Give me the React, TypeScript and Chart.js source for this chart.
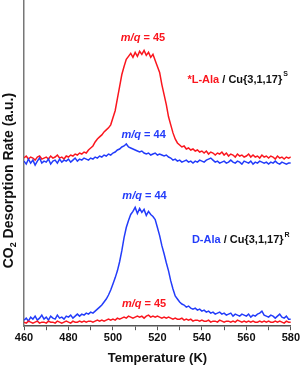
import React, { useEffect, useRef } from "react";
import { Chart, registerables } from "chart.js";

Chart.register(...registerables);

// Temperature grid (K)
const temperatures = [
  460, 461, 462, 463, 464, 465, 466, 467, 468, 469,
  470, 471, 472, 473, 474, 475, 476, 477, 478, 479,
  480, 481, 482, 483, 484, 485, 486, 487, 488, 489,
  490, 491, 492, 493, 494, 495, 496, 497, 498, 499,
  500, 501, 502, 503, 504, 505, 506, 507, 508, 509,
  510, 511, 512, 513, 514, 515, 516, 517, 518, 519,
  520, 521, 522, 523, 524, 525, 526, 527, 528, 529,
  530, 531, 532, 533, 534, 535, 536, 537, 538, 539,
  540, 541, 542, 543, 544, 545, 546, 547, 548, 549,
  550, 551, 552, 553, 554, 555, 556, 557, 558, 559,
  560, 561, 562, 563, 564, 565, 566, 567, 568, 569,
  570, 571, 572, 573, 574, 575, 576, 577, 578, 579,
  580,
];

// *L-Ala / Cu{3,1,17}S, m/q = 45 (offset trace, upper panel)
const lAla45 = [
  167, 169, 166, 168, 167, 165, 168, 169, 166, 167,
  168, 166, 169, 167, 168, 170, 167, 168, 166, 169,
  168, 170, 169, 171, 170, 172, 171, 173, 172, 175,
  177, 179, 183, 186, 188, 190, 193, 195, 197, 200,
  207, 214, 226, 238, 250, 258, 265, 268, 271, 267,
  272, 268, 273, 270, 274, 269, 272, 267, 270, 264,
  258, 252, 240, 230, 220, 208, 200, 192, 186, 182,
  180, 178, 179, 176, 177, 175, 176, 174, 175, 173,
  174, 172, 174, 171, 173, 172, 170, 172, 171, 173,
  170, 172, 169, 171, 170, 168, 171, 169, 170, 168,
  169, 171, 168, 170, 168, 169, 167, 170, 168, 169,
  167, 169, 168, 166, 169, 167, 168, 166, 168, 167,
  168,
];

// *L-Ala / Cu{3,1,17}S, m/q = 44 (upper panel)
const lAla44 = [
  164, 161, 166, 162, 165, 160, 164, 167, 162, 164,
  163, 166, 161, 164, 165, 162, 166, 163, 165, 164,
  166, 163, 165, 167, 164, 166, 165, 167, 166, 165,
  167, 166, 168, 167, 169, 168, 170, 169, 171, 170,
  172, 173, 175, 176, 178, 179, 181, 178, 177, 176,
  175, 174, 173, 174, 172, 171, 172, 170, 171, 172,
  170, 171, 170, 169, 170, 168, 167, 165, 166, 164,
  165, 163, 164, 165, 163, 164, 162, 164, 163, 165,
  164, 163, 165, 166, 167, 165, 163, 164, 162, 163,
  164, 162, 163, 165, 163, 162, 164, 163, 161, 164,
  163, 162, 164, 161, 163, 162, 164, 163, 162, 163,
  161, 163, 162, 164, 162, 161, 163, 162, 161, 162,
  162,
];

// D-Ala / Cu{3,1,17}R, m/q = 44 (lower panel)
const dAla44 = [
  6, 8, 5, 9, 7, 10, 6, 8, 11, 7,
  9, 6, 10, 8, 7, 11, 8, 9, 7, 10,
  9, 11, 8, 10, 12, 10, 12, 11, 13, 12,
  14, 13, 15, 17, 19, 21, 24, 27, 31, 36,
  42, 48, 55, 64, 75, 88, 98, 105, 111, 114,
  118, 112, 117, 113, 116, 110, 114, 111, 109, 106,
  98, 90, 80, 72, 63, 55, 45, 37, 30, 27,
  24, 22, 21, 19, 20, 18, 17, 18, 16, 17,
  15, 16, 14, 15, 13, 14, 12, 13, 14, 12,
  13, 11, 12, 13, 10, 12, 11, 10, 12, 11,
  10, 12, 9, 11, 10, 12, 13, 15, 11, 10,
  9, 11, 10, 8, 10, 12, 9, 8, 10, 7,
  7,
];

// D-Ala / Cu{3,1,17}R, m/q = 45 (lower panel)
const dAla45 = [
  4, 3, 5, 4, 3, 4, 5, 3, 4, 4,
  3, 5, 4, 4, 3, 5, 4, 3, 4, 5,
  4, 3, 5, 4, 4, 5, 4, 5, 4, 5,
  5, 4, 5, 6, 5, 6, 5, 6, 7, 6,
  7, 6, 8, 7, 8, 9, 8, 10, 9, 8,
  9, 10, 9, 10, 8, 10, 11, 9, 10, 9,
  10, 9, 8, 9, 8, 9, 8, 7, 8, 7,
  7, 8, 6, 7, 6, 7, 5, 6, 6, 5,
  6, 5, 5, 6, 4, 5, 5, 4, 6, 5,
  4, 5, 5, 4, 5, 4, 6, 5, 4, 5,
  4, 5, 4, 5, 4, 4, 5, 4, 5, 4,
  5, 4, 4, 5, 4, 5, 4, 3, 5, 4,
  4,
];

const xTicksMajor = [460, 480, 500, 520, 540, 560, 580];

const RED = "rgb(250, 22, 30)";
const BLUE = "rgb(35, 60, 250)";
const FONT = "'Liberation Sans', Arial, sans-serif";

const toPoints = (ys: number[]) => temperatures.map((t, i) => ({ x: t, y: ys[i] }));

// annotation anchors in data coordinates (T, a.u.)
const mqLabels = [
  { text: "45", color: RED, t: 513.5, v: 286 },
  { text: "44", color: BLUE, t: 513.8, v: 190 },
  { text: "44", color: BLUE, t: 514.2, v: 129 },
  { text: "45", color: RED, t: 514, v: 22 },
];
const sampleLabels = [
  { prefix: "*L-Ala", sup: "S", t: 533.5, v: 245, color: RED },
  { prefix: "D-Ala", sup: "R", t: 535.5, v: 86, color: BLUE },
];

const annotationPlugin = {
  id: "annotations",
  afterDraw(chart: any) {
    const ctx = chart.ctx as CanvasRenderingContext2D;
    const xs = chart.scales.x;
    const ys = chart.scales.y;
    ctx.save();
    ctx.textBaseline = "middle";
    // m/q labels
    for (const l of mqLabels) {
      const cx = xs.getPixelForValue(l.t);
      const cy = ys.getPixelForValue(l.v);
      ctx.font = `italic bold 11px ${FONT}`;
      const a = "m/q";
      const wa = ctx.measureText(a).width;
      ctx.font = `bold 11px ${FONT}`;
      const b = " = " + l.text;
      const wb = ctx.measureText(b).width;
      const x = cx - (wa + wb) / 2;
      ctx.fillStyle = l.color;
      ctx.textAlign = "left";
      ctx.font = `italic bold 11px ${FONT}`;
      ctx.fillText(a, x, cy);
      ctx.font = `bold 11px ${FONT}`;
      ctx.fillText(b, x + wa, cy);
    }
    // sample labels
    for (const s of sampleLabels) {
      let x = xs.getPixelForValue(s.t);
      const cy = ys.getPixelForValue(s.v);
      ctx.textAlign = "left";
      ctx.font = `bold 11px ${FONT}`;
      ctx.fillStyle = s.color;
      ctx.fillText(s.prefix, x, cy);
      x += ctx.measureText(s.prefix).width;
      ctx.fillStyle = "#111";
      const rest = " / Cu{3,1,17}";
      ctx.fillText(rest, x, cy);
      x += ctx.measureText(rest).width + 1;
      ctx.font = `bold 7px ${FONT}`;
      ctx.fillText(s.sup, x, cy - 5);
    }
    // y-axis title with subscript
    const ca = chart.chartArea;
    const ty = (ca.top + ca.bottom) / 2 + 17;
    ctx.translate(9, ty);
    ctx.rotate(-Math.PI / 2);
    ctx.fillStyle = "#111";
    ctx.font = `bold 14px ${FONT}`;
    const p1 = "CO";
    const p3 = " Desorption Rate (a.u.)";
    const w1 = ctx.measureText(p1).width;
    const w3 = ctx.measureText(p3).width;
    ctx.font = `bold 9px ${FONT}`;
    const w2 = ctx.measureText("2").width;
    const x0 = -(w1 + w2 + w3) / 2;
    ctx.font = `bold 14px ${FONT}`;
    ctx.fillText(p1, x0, 0);
    ctx.font = `bold 9px ${FONT}`;
    ctx.fillText("2", x0 + w1, 5);
    ctx.font = `bold 14px ${FONT}`;
    ctx.fillText(p3, x0 + w1 + w2, 0);
    ctx.restore();
  },
};

export default function App() {
  const ref = useRef<HTMLCanvasElement | null>(null);
  useEffect(() => {
    if (!ref.current) return;
    const lineDs = (label: string, ys: number[], color: string) => ({
      label,
      data: toPoints(ys),
      borderColor: color,
      backgroundColor: color,
      borderWidth: 1.5,
      pointRadius: 0,
      tension: 0,
    });
    const chart = new Chart(ref.current, {
      type: "line",
      data: {
        datasets: [
          lineDs("L-Ala m/q=44", lAla44, BLUE),
          lineDs("L-Ala m/q=45", lAla45, RED),
          lineDs("D-Ala m/q=45", dAla45, RED),
          lineDs("D-Ala m/q=44", dAla44, BLUE),
        ],
      },
      options: {
        animation: false,
        responsive: false,
        layout: { padding: { left: 0, right: 10, top: 1, bottom: 0 } },
        plugins: { legend: { display: false }, tooltip: { enabled: false } },
        scales: {
          x: {
            type: "linear",
            min: 460,
            max: 580,
            afterBuildTicks: (scale: any) => {
              const arr: any[] = [];
              for (const t of xTicksMajor) {
                arr.push({ value: t });
                if (t < 580) arr.push({ value: t + 10 });
              }
              scale.ticks = arr;
            },
            ticks: {
              autoSkip: false,
              maxRotation: 0,
              padding: 1,
              color: "#111",
              font: { family: FONT, size: 11, weight: "bold" },
              callback: (v: any) => (xTicksMajor.includes(Number(v)) ? String(v) : ""),
            },
            grid: {
              drawOnChartArea: false,
              drawTicks: true,
              tickLength: 4,
              color: "#555",
              lineWidth: 1,
            },
            border: { display: true, color: "#555", width: 1.5 },
            title: {
              display: true,
              text: "Temperature (K)",
              color: "#111",
              font: { family: FONT, size: 13, weight: "bold" },
              padding: { top: 5, bottom: 0 },
            },
          },
          y: {
            min: 0,
            max: 323,
            afterFit: (scale: any) => {
              scale.width = 24;
            },
            ticks: { display: false },
            grid: { drawOnChartArea: false, drawTicks: false },
            border: { display: true, color: "#777", width: 1.5 },
          },
        },
      },
      plugins: [annotationPlugin],
    } as any);
    return () => chart.destroy();
  }, []);
  return (
    <div style={{ position: "fixed", left: 0, top: 0, width: 301, height: 366, background: "#fff" }}>
      <canvas ref={ref} width={301} height={366} style={{ display: "block" }} />
    </div>
  );
}
